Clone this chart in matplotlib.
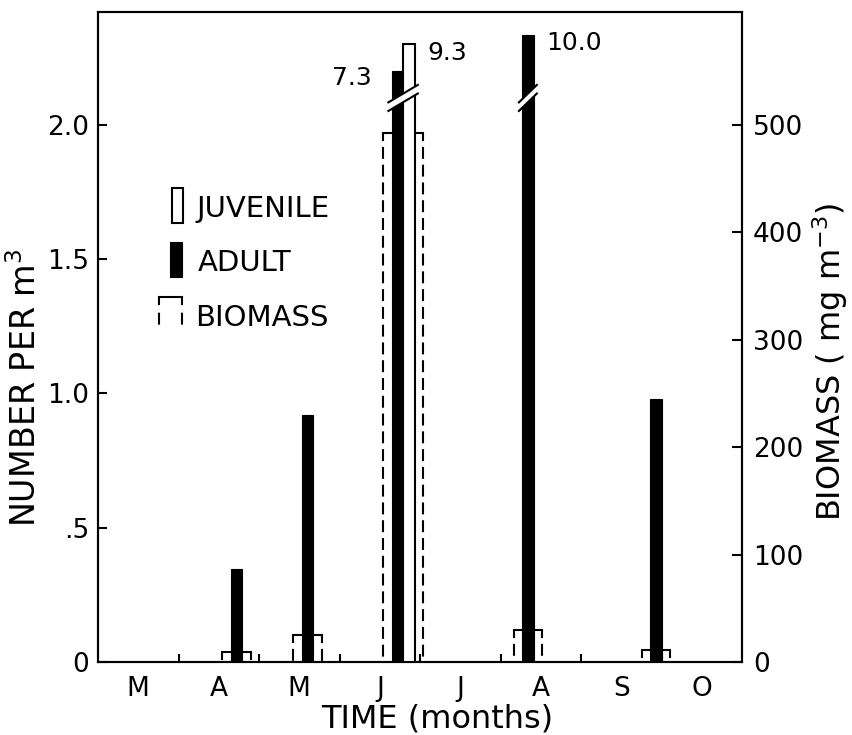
"""Effectifs (juvéniles / adultes) et biomasse par mois, barres coupées au-dessus de 2.1."""
import matplotlib
matplotlib.use("Agg")
import matplotlib.pyplot as plt
from matplotlib.patches import Polygon
from matplotlib.ticker import FixedLocator, FixedFormatter, NullFormatter

plt.rcParams["font.family"] = ["DejaVu Sans"]
plt.rcParams["lines.scale_dashes"] = False

MONTHS = ["M", "A", "M", "J", "J", "A", "S", "O"]
# date de prélèvement, en mois depuis le 1er mars
sample_time = [1.72, 2.60, 3.79, 5.34, 6.93]
adult = [0.345, 0.92, 7.3, 10.0, 0.98]      # nombre par m3
juvenile = [0, 0, 9.3, 0, 0]
biomass = [9, 25, 492, 30, 11]              # mg m-3

left_ticks = [0, 0.5, 1.0, 1.5, 2.0]
left_ticklabels = ["0", ".5", "1.0", "1.5", "2.0"]
right_ticks = [0, 100, 200, 300, 400, 500]

CUT = 2.1          # au-dessus : échelle comprimée
BAR_W = 0.143      # largeur d'une barre (mois)
PAD = 0.107        # marge de la boîte biomasse
LW = 1.5
K = "black"


def shown(v):
    """Hauteur dessinée (échelle comprimée au-dessus de la coupure)."""
    return v if v <= CUT else 1.835 + 0.05 * v


fig = plt.figure(figsize=(8.53, 7.35), dpi=100)
ax = fig.add_axes([0.1149, 0.0993, 0.755, 0.8844])
ax2 = ax.twinx()
ax.set_zorder(ax2.get_zorder() + 1)
ax.patch.set_visible(False)

ax.set_xlim(0, 8)
ax.set_ylim(0, 2.42)
ax2.set_ylim(0, 605)

# biomasse : boîtes ouvertes, côtés en tirets
for t, b, j in zip(sample_time, biomass, juvenile):
    n = 2 if j > 0 else 1
    half = n * BAR_W / 2 + PAD
    x0, x1 = t - half, t + half
    ax2.plot([x0, x1], [b, b], color=K, lw=LW, solid_capstyle="projecting")
    for x in (x0, x1):
        ax2.plot([x, x], [b, 0], color=K, lw=LW, ls=(2.8, (8.6, 4.2)))

# adultes / juvéniles
for t, a, j in zip(sample_time, adult, juvenile):
    xa = t - BAR_W / 2 if j > 0 else t
    ax.bar(xa, shown(a), width=BAR_W, color=K, edgecolor=K, lw=0.8, zorder=3)
    bars = [(xa, a, "left" if j > 0 else "right")]
    if j > 0:
        xj = t + BAR_W / 2
        ax.bar(xj, shown(j), width=BAR_W, color="white", edgecolor=K, lw=LW, zorder=3)
        bars.append((xj, j, "right"))
    if max(a, j) > CUT:
        # marque de coupure : bande blanche en biais
        lo = min(x for x, _, _ in bars) - BAR_W / 2 - 0.04
        hi = max(x for x, _, _ in bars) + BAR_W / 2 + 0.04
        rise, th = 0.065, 0.032
        y0, y1 = CUT - rise / 2, CUT + rise / 2
        ax.add_patch(Polygon([(lo, y0 - th / 2), (hi, y1 - th / 2),
                              (hi, y1 + th / 2), (lo, y0 + th / 2)],
                             closed=True, fc="white", ec="none", zorder=4))
        for d in (-th / 2, th / 2):
            ax.plot([lo, hi], [y0 + d, y1 + d], color=K, lw=LW, zorder=5)
        for x, v, side in bars:
            if v <= CUT:
                continue
            if side == "left":
                ax.annotate(f"{v:.1f}", (x - BAR_W / 2, shown(v)), xytext=(-14, -5),
                            textcoords="offset points", ha="right", va="center",
                            fontsize=18)
            else:
                ax.annotate(f"{v:.1f}", (x + BAR_W / 2, shown(v)), xytext=(9, -6),
                            textcoords="offset points", ha="left", va="center",
                            fontsize=18)

# axes
for a_ in (ax, ax2):
    for s in a_.spines.values():
        s.set_linewidth(LW)
ax.xaxis.set_major_locator(FixedLocator([i + 0.5 for i in range(len(MONTHS))]))
ax.xaxis.set_major_formatter(FixedFormatter(MONTHS))
ax.xaxis.set_minor_locator(FixedLocator(range(1, len(MONTHS))))
ax.xaxis.set_minor_formatter(NullFormatter())
ax.tick_params(axis="x", which="major", length=0, pad=10, labelsize=19)
ax.tick_params(axis="x", which="minor", direction="in", length=6, width=LW)

ax.yaxis.set_major_locator(FixedLocator(left_ticks))
ax.yaxis.set_major_formatter(FixedFormatter(left_ticklabels))
ax.tick_params(axis="y", direction="in", length=6.5, width=LW, pad=6.5, labelsize=19)

ax2.yaxis.set_major_locator(FixedLocator(right_ticks))
ax2.tick_params(axis="y", direction="in", length=7, width=LW, pad=8, labelsize=19)

fig.text(26 / 853, 1 - 388 / 735, "NUMBER PER m$^3$", rotation=90,
         ha="center", va="center", fontsize=24)
fig.text(830 / 853, 1 - 362 / 735, "BIOMASS ( mg m$^{-3}$)", rotation=90,
         ha="center", va="center", fontsize=23)
fig.text(437 / 853, 1 - 719 / 735, "TIME (months)", ha="center", va="center",
         fontsize=23)

# légende dessinée à la main (coordonnées axes)
tr = ax.transAxes
ax.add_patch(plt.Rectangle((0.1144, 0.675), 0.0171, 0.054, transform=tr,
                           fc="white", ec=K, lw=LW))
ax.text(0.1537, 0.675, "JUVENILE", transform=tr, ha="left", va="bottom", fontsize=21)
ax.add_patch(plt.Rectangle((0.1118, 0.592), 0.0186, 0.054, transform=tr,
                           fc=K, ec=K, lw=0.8))
ax.text(0.155, 0.592, "ADULT", transform=tr, ha="left", va="bottom", fontsize=21)
ax.plot([0.0947, 0.1304], [0.5615, 0.5615], transform=tr, color=K, lw=LW)
for x in (0.0947, 0.1304):
    ax.plot([x, x], [0.5615, 0.508], transform=tr, color=K, lw=LW,
            ls=(2.8, (8.6, 5.5)))
ax.text(0.151, 0.508, "BIOMASS", transform=tr, ha="left", va="bottom", fontsize=21)

fig.savefig("out.png", dpi=100)
